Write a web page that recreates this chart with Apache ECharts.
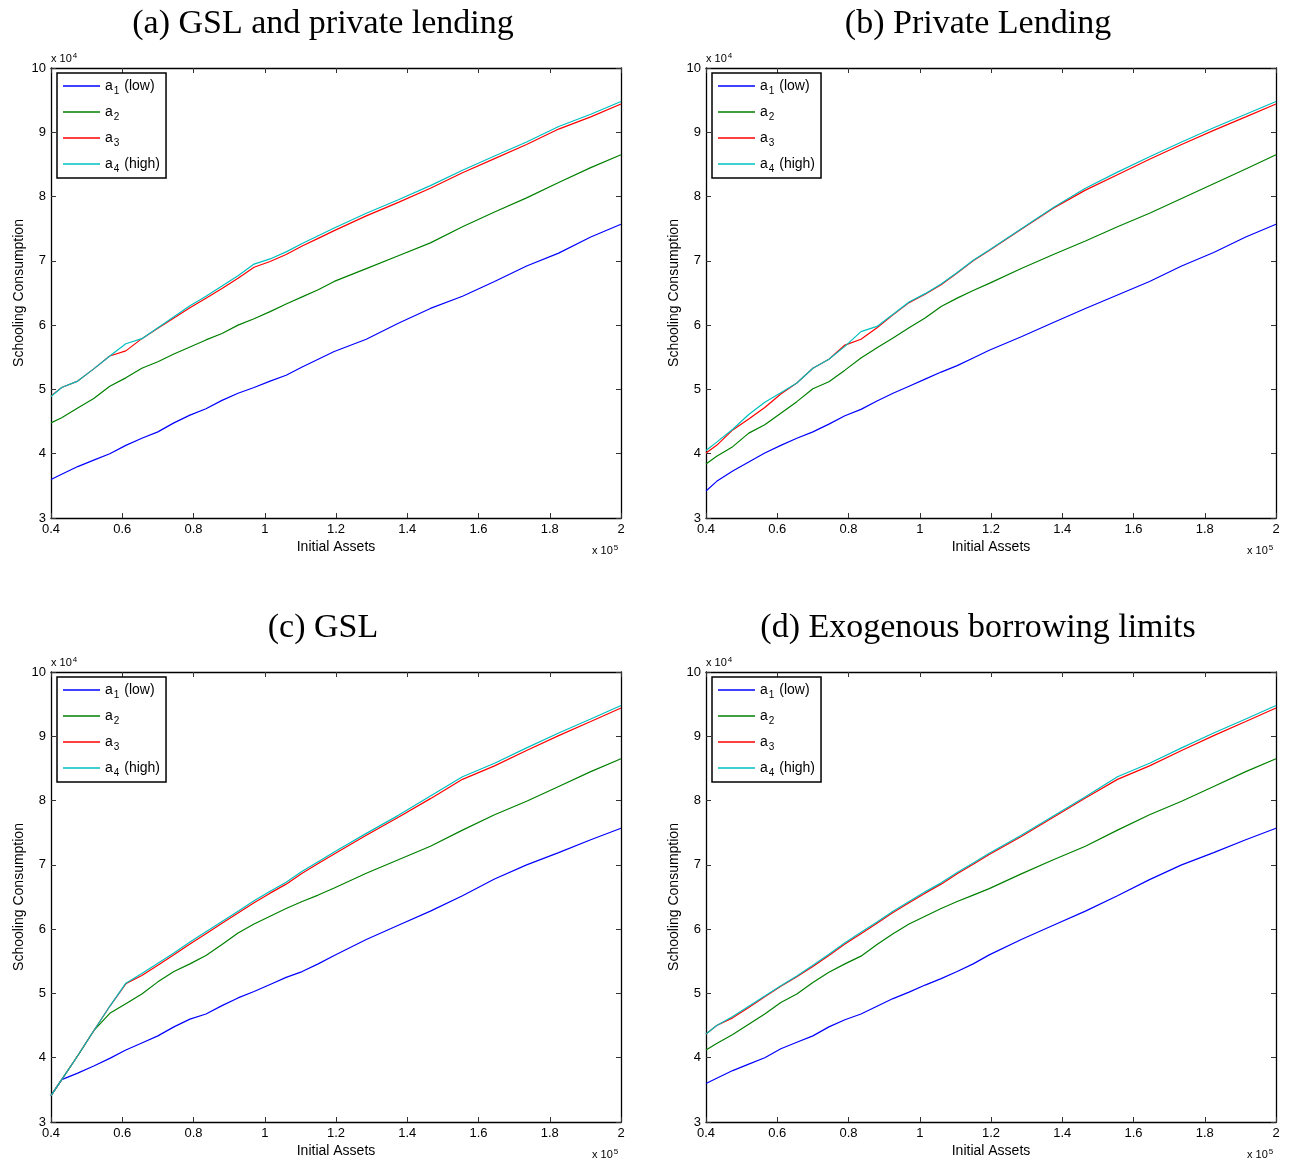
<!DOCTYPE html>
<html>
<head>
<meta charset="utf-8">
<title>Schooling Consumption</title>
<script src="https://cdn.jsdelivr.net/npm/echarts@6/dist/echarts.min.js"></script>
<style>
  html, body { margin: 0; padding: 0; background: #fff; }
  #chart { width: 1295px; height: 1164px; }
</style>
</head>
<body>
<div id="chart"></div>
<script>
// initial assets, in units of 10^5
const assets = [0.4, 0.43, 0.475, 0.52, 0.565, 0.61, 0.655, 0.70, 0.745, 0.79, 0.835, 0.88, 0.925, 0.97,
  1.015, 1.06, 1.105, 1.15, 1.195, 1.285, 1.375, 1.465, 1.555, 1.645, 1.735, 1.825, 1.915, 2.0];

const seriesNames = ["a1 (low)", "a2", "a3", "a4 (high)"];
const seriesColors = ["#0000ff", "#008000", "#ff0000", "#00bfbf"];
const panelTitles = ["(a) GSL and private lending", "(b) Private Lending", "(c) GSL", "(d) Exogenous borrowing limits"];

// schooling consumption, in units of 10^4
// (a) GSL and private lending
const a1GslPrivate = [3.60, 3.68, 3.80, 3.90, 4.00, 4.13, 4.24, 4.34, 4.48, 4.60, 4.70, 4.83, 4.94, 5.03, 5.13, 5.22, 5.35, 5.47, 5.59, 5.78, 6.03, 6.26, 6.45, 6.68, 6.92, 7.12, 7.37, 7.57];
const a2GslPrivate = [4.48, 4.56, 4.71, 4.86, 5.05, 5.18, 5.33, 5.43, 5.55, 5.66, 5.77, 5.87, 6.00, 6.10, 6.21, 6.33, 6.44, 6.55, 6.68, 6.88, 7.08, 7.28, 7.53, 7.76, 7.98, 8.22, 8.45, 8.65];
const a3GslPrivate = [4.90, 5.03, 5.13, 5.32, 5.52, 5.60, 5.79, 5.95, 6.11, 6.27, 6.42, 6.57, 6.73, 6.90, 6.99, 7.10, 7.23, 7.35, 7.47, 7.70, 7.91, 8.13, 8.37, 8.59, 8.81, 9.05, 9.24, 9.44];
const a4GslPrivate = [4.89, 5.03, 5.13, 5.32, 5.52, 5.71, 5.79, 5.96, 6.13, 6.30, 6.45, 6.61, 6.77, 6.95, 7.03, 7.14, 7.27, 7.39, 7.51, 7.74, 7.95, 8.17, 8.41, 8.63, 8.85, 9.09, 9.28, 9.48];

// (b) Private lending
const a1Private = [3.42, 3.57, 3.73, 3.87, 4.01, 4.13, 4.24, 4.34, 4.46, 4.59, 4.69, 4.82, 4.94, 5.05, 5.16, 5.27, 5.37, 5.49, 5.61, 5.82, 6.04, 6.26, 6.47, 6.68, 6.92, 7.13, 7.37, 7.57];
const a2Private = [3.84, 3.96, 4.11, 4.32, 4.45, 4.63, 4.81, 5.01, 5.12, 5.30, 5.49, 5.65, 5.80, 5.96, 6.11, 6.29, 6.42, 6.54, 6.65, 6.88, 7.10, 7.31, 7.53, 7.74, 7.97, 8.20, 8.43, 8.65];
const a3Private = [4.01, 4.13, 4.37, 4.54, 4.72, 4.93, 5.10, 5.33, 5.47, 5.69, 5.78, 5.96, 6.16, 6.35, 6.48, 6.63, 6.81, 7.00, 7.16, 7.49, 7.82, 8.10, 8.34, 8.58, 8.81, 9.03, 9.24, 9.44];
const a4Private = [4.05, 4.18, 4.38, 4.61, 4.80, 4.95, 5.10, 5.33, 5.47, 5.67, 5.90, 5.98, 6.17, 6.36, 6.49, 6.64, 6.82, 7.01, 7.17, 7.50, 7.83, 8.13, 8.38, 8.62, 8.85, 9.07, 9.28, 9.48];

// (c) GSL
const a1Gsl = [3.41, 3.66, 3.76, 3.87, 3.99, 4.12, 4.23, 4.34, 4.48, 4.60, 4.68, 4.81, 4.93, 5.03, 5.14, 5.25, 5.34, 5.46, 5.59, 5.84, 6.06, 6.28, 6.52, 6.78, 7.00, 7.19, 7.39, 7.57];
const a2Gsl = [3.41, 3.66, 4.03, 4.42, 4.69, 4.84, 4.99, 5.18, 5.34, 5.46, 5.59, 5.76, 5.94, 6.08, 6.20, 6.32, 6.43, 6.53, 6.64, 6.87, 7.08, 7.29, 7.54, 7.78, 7.99, 8.22, 8.45, 8.65];
const a3Gsl = [3.41, 3.66, 4.03, 4.42, 4.80, 5.15, 5.28, 5.44, 5.60, 5.77, 5.93, 6.09, 6.25, 6.41, 6.56, 6.70, 6.87, 7.02, 7.17, 7.46, 7.74, 8.03, 8.33, 8.54, 8.78, 9.01, 9.23, 9.44];
const a4Gsl = [3.41, 3.66, 4.03, 4.42, 4.80, 5.16, 5.31, 5.47, 5.63, 5.80, 5.96, 6.12, 6.28, 6.44, 6.59, 6.73, 6.90, 7.05, 7.20, 7.49, 7.77, 8.07, 8.37, 8.58, 8.82, 9.05, 9.27, 9.48];

// (d) Exogenous borrowing limits
const a1Exog = [3.60, 3.68, 3.80, 3.90, 4.00, 4.14, 4.24, 4.34, 4.48, 4.59, 4.68, 4.80, 4.92, 5.02, 5.13, 5.23, 5.34, 5.46, 5.60, 5.84, 6.06, 6.28, 6.52, 6.77, 7.00, 7.19, 7.39, 7.57];
const a2Exog = [4.12, 4.22, 4.36, 4.52, 4.68, 4.86, 4.99, 5.17, 5.33, 5.46, 5.58, 5.76, 5.93, 6.08, 6.20, 6.32, 6.43, 6.53, 6.63, 6.86, 7.08, 7.29, 7.54, 7.78, 7.99, 8.22, 8.45, 8.65];
const a3Exog = [4.37, 4.50, 4.62, 4.78, 4.95, 5.11, 5.26, 5.42, 5.59, 5.77, 5.93, 6.09, 6.26, 6.41, 6.56, 6.70, 6.86, 7.01, 7.16, 7.44, 7.74, 8.04, 8.33, 8.54, 8.78, 9.01, 9.23, 9.44];
const a4Exog = [4.37, 4.50, 4.64, 4.80, 4.96, 5.12, 5.27, 5.44, 5.61, 5.79, 5.95, 6.11, 6.28, 6.43, 6.58, 6.72, 6.88, 7.03, 7.18, 7.46, 7.76, 8.06, 8.37, 8.58, 8.82, 9.05, 9.27, 9.48];

const panelData = [
  [a1GslPrivate, a2GslPrivate, a3GslPrivate, a4GslPrivate],
  [a1Private, a2Private, a3Private, a4Private],
  [a1Gsl, a2Gsl, a3Gsl, a4Gsl],
  [a1Exog, a2Exog, a3Exog, a4Exog]
];

// plot boxes: left, top (px)
const boxes = [[51, 68], [706, 68], [51, 672], [706, 672]];
const boxW = 570, boxH = 450;

const sansFont = "'Liberation Sans', Arial, sans-serif";
const serifFont = "'Liberation Serif', 'DejaVu Serif', serif";

const chart = echarts.init(document.getElementById("chart"));

const grid = [], xAxis = [], yAxis = [], series = [], legend = [], title = [], graphic = [];

boxes.forEach(([left, top], p) => {
  grid.push({ left: left, top: top, width: boxW, height: boxH });

  const tickStyle = { show: true, inside: true, length: 5, lineStyle: { color: "#333", width: 1 } };
  const lineStyle = { show: true, onZero: false, lineStyle: { color: "#000", width: 1.3 } };

  // bottom + top x axes
  xAxis.push({
    type: "value", gridIndex: p, position: "bottom", min: 0.4, max: 2, interval: 0.2,
    axisLine: lineStyle, axisTick: tickStyle, splitLine: { show: false },
    axisLabel: { color: "#000", fontSize: 13, fontFamily: sansFont, margin: 5,
      formatter: v => String(+v.toFixed(1)) },
    name: "Initial Assets", nameLocation: "middle", nameGap: 22,
    nameTextStyle: { color: "#000", fontSize: 14, fontFamily: sansFont }
  });
  xAxis.push({
    type: "value", gridIndex: p, position: "top", min: 0.4, max: 2, interval: 0.2,
    axisLine: lineStyle, axisTick: tickStyle, splitLine: { show: false }, axisLabel: { show: false }
  });

  // left + right y axes
  yAxis.push({
    type: "value", gridIndex: p, position: "left", min: 3, max: 10, interval: 1,
    axisLine: lineStyle, axisTick: tickStyle, splitLine: { show: false },
    axisLabel: { color: "#000", fontSize: 13, fontFamily: sansFont, margin: 5 },
    name: "Schooling Consumption", nameLocation: "middle", nameGap: 25, nameRotate: 90,
    nameTextStyle: { color: "#000", fontSize: 14, fontFamily: sansFont }
  });
  yAxis.push({
    type: "value", gridIndex: p, position: "right", min: 3, max: 10, interval: 1,
    axisLine: lineStyle, axisTick: tickStyle, splitLine: { show: false }, axisLabel: { show: false }
  });

  panelData[p].forEach((vals, s) => {
    series.push({
      type: "line", name: seriesNames[s],
      xAxisIndex: p * 2, yAxisIndex: p * 2,
      data: assets.map((x, i) => [x, vals[i]]),
      symbol: "none", animation: false,
      lineStyle: { color: seriesColors[s], width: 1.2 },
      itemStyle: { color: seriesColors[s] }
    });
  });

  legend.push({
    data: seriesNames, orient: "vertical", left: left + 6, top: top + 5,
    selectedMode: false, icon: "rect", itemWidth: 37, itemHeight: 1.6, itemGap: 9,
    padding: [6, 6, 4, 6],
    backgroundColor: "#fff", borderColor: "#000", borderWidth: 1.5, borderRadius: 0,
    formatter: name => {
      const m = name.match(/^a(\d)(.*)$/);
      return "{b|a}{s|" + m[1] + "}{b|" + m[2] + "}";
    },
    textStyle: {
      rich: {
        b: { fontSize: 14, fontFamily: sansFont, color: "#000" },
        s: { fontSize: 10, fontFamily: sansFont, color: "#000", padding: [10, 1, 0, 1] }
      }
    }
  });

  title.push({
    text: panelTitles[p], left: left + 267, top: top - 66, textAlign: "center",
    textStyle: { fontFamily: serifFont, fontSize: 34, fontWeight: "normal", color: "#000" }
  });

  // scale factor notes
  graphic.push({
    type: "text", left: left, top: top - 16,
    style: { text: "{a|x 10}{s|4}", rich: {
      a: { fontSize: 11, fontFamily: sansFont, fill: "#000" },
      s: { fontSize: 8, fontFamily: sansFont, fill: "#000", padding: [0, 0, 6, 1] } } }
  });
  graphic.push({
    type: "text", left: left + boxW - 29, top: top + boxH + 26,
    style: { text: "{a|x 10}{s|5}", rich: {
      a: { fontSize: 11, fontFamily: sansFont, fill: "#000" },
      s: { fontSize: 8, fontFamily: sansFont, fill: "#000", padding: [0, 0, 6, 1] } } }
  });
});

chart.setOption({
  backgroundColor: "#fff",
  animation: false,
  title: title,
  grid: grid,
  xAxis: xAxis,
  yAxis: yAxis,
  legend: legend,
  series: series,
  graphic: graphic
});
</script>
</body>
</html>
